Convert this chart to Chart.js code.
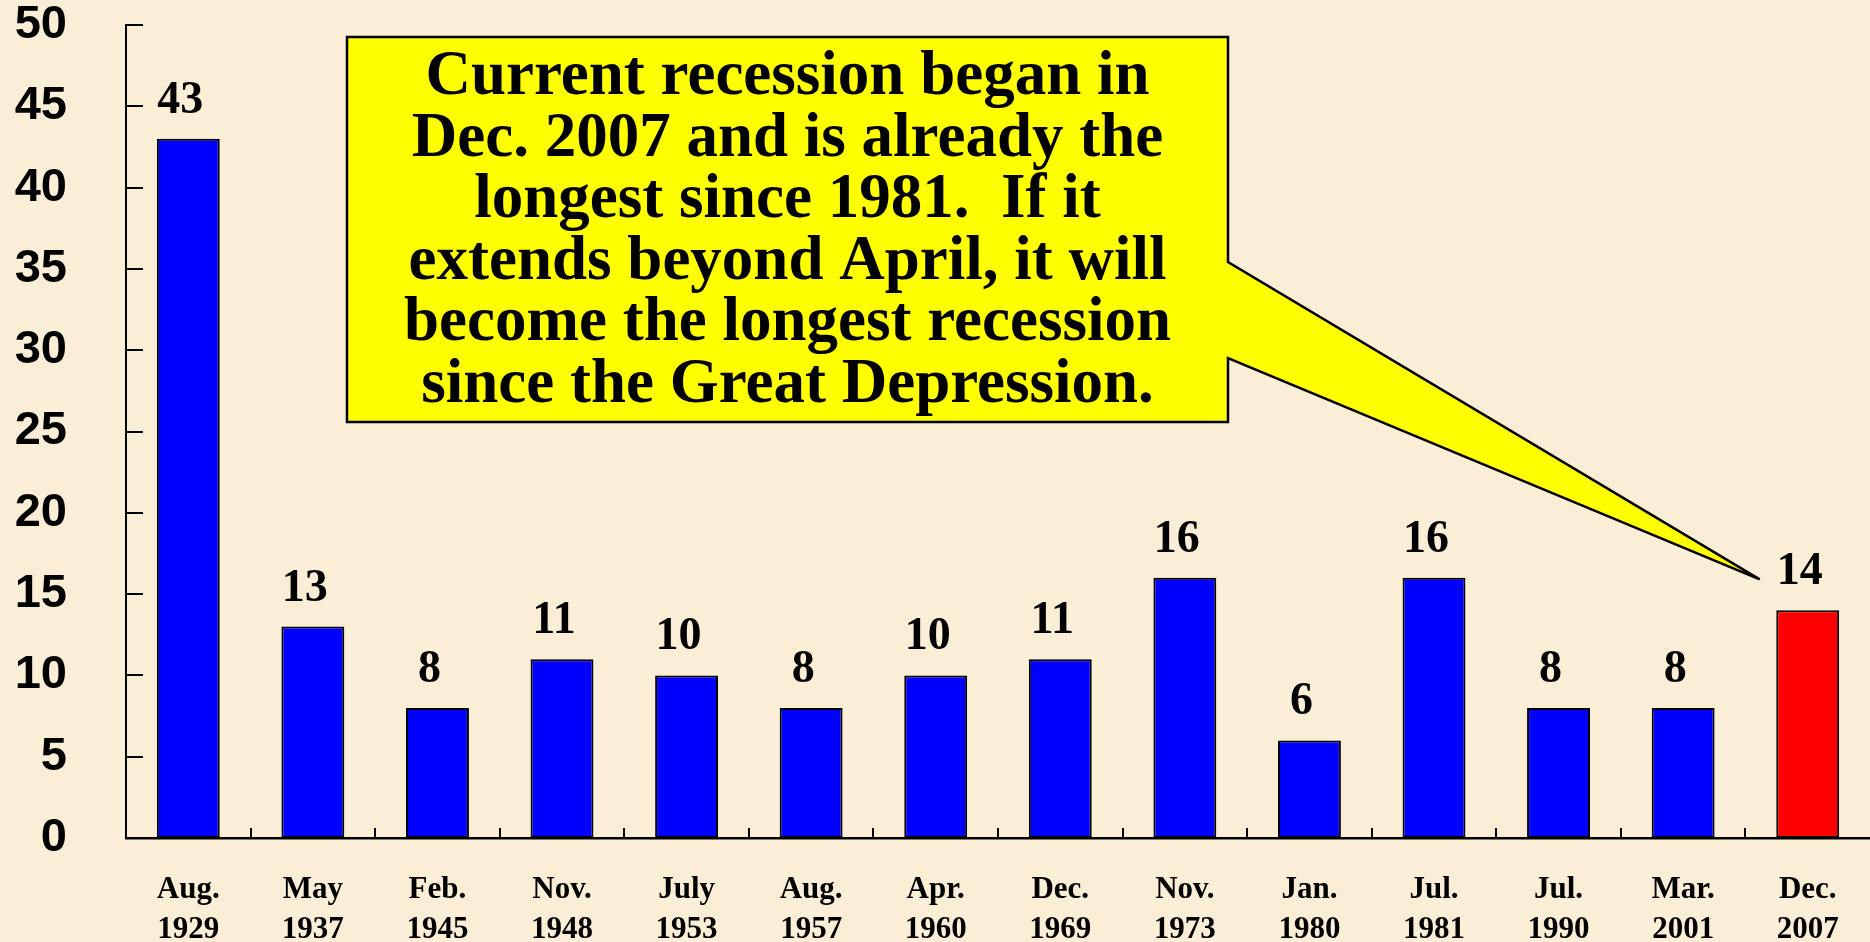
<!DOCTYPE html>
<html>
<head>
<meta charset="utf-8">
<script src="https://cdn.jsdelivr.net/npm/chart.js@4.4.1/dist/chart.umd.min.js"></script>
<style>
  html, body { margin: 0; padding: 0; background: #faeed6; }
  #wrap { width: 1870px; height: 942px; position: relative; }
</style>
</head>
<body>
<div id="wrap"><canvas id="recessionChart"></canvas></div>
<script>
const recessionStarts = [
    ['Aug.', '1929'], ['May', '1937'], ['Feb.', '1945'], ['Nov.', '1948'],
    ['July', '1953'], ['Aug.', '1957'], ['Apr.', '1960'], ['Dec.', '1969'],
    ['Nov.', '1973'], ['Jan.', '1980'], ['Jul.', '1981'], ['Jul.', '1990'],
    ['Mar.', '2001'], ['Dec.', '2007']
];

const durationMonths = [43, 13, 8, 11, 10, 8, 10, 11, 16, 6, 16, 8, 8, 14];

const yTickValues = [0, 5, 10, 15, 20, 25, 30, 35, 40, 45, 50];

const calloutLines = [
    'Current recession began in',
    'Dec. 2007 and is already the',
    'longest since 1981.  If it',
    'extends beyond April, it will',
    'become the longest recession',
    'since the Great Depression.'
];

const currentIndex = durationMonths.length - 1;
const barColors = durationMonths.map((v, i) => i === currentIndex ? '#ff0000' : '#0000ff');

// parchment background
const backgroundPlugin = {
    id: 'parchment',
    beforeDraw(chart) {
        const ctx = chart.ctx;
        ctx.save();
        ctx.fillStyle = '#faeed6';
        ctx.fillRect(0, 0, chart.width, chart.height);
        ctx.restore();
    }
};

// tick marks pointing into the plot, like the original
const innerTicksPlugin = {
    id: 'innerTicks',
    afterDraw(chart) {
        const ctx = chart.ctx;
        const x = chart.scales.x;
        const y = chart.scales.y;
        const area = chart.chartArea;
        ctx.save();
        ctx.strokeStyle = '#000';
        ctx.lineWidth = 2;
        ctx.beginPath();
        yTickValues.forEach(v => {
            if (v === 0) return;
            const py = Math.round(y.getPixelForValue(v));
            ctx.moveTo(area.left, py);
            ctx.lineTo(area.left + 17, py);
        });
        const half = (x.getPixelForValue(1) - x.getPixelForValue(0)) / 2;
        for (let i = 0; i < recessionStarts.length - 1; i++) {
            const px = Math.round(x.getPixelForValue(i) + half);
            ctx.moveTo(px, area.bottom);
            ctx.lineTo(px, area.bottom - 10);
        }
        ctx.stroke();
        ctx.restore();
    }
};

// value labels over bars
const valueLabelsPlugin = {
    id: 'valueLabels',
    afterDatasetsDraw(chart) {
        const ctx = chart.ctx;
        const meta = chart.getDatasetMeta(0);
        ctx.save();
        ctx.fillStyle = '#000';
        ctx.font = 'bold 46px "Liberation Serif", "Times New Roman", serif';
        ctx.textAlign = 'center';
        ctx.textBaseline = 'alphabetic';
        meta.data.forEach((bar, i) => {
            ctx.fillText(String(durationMonths[i]), bar.x - 8, bar.y - 26);
        });
        ctx.restore();
    }
};

// yellow speech box pointing at the current recession
const calloutPlugin = {
    id: 'callout',
    afterDraw(chart) {
        const ctx = chart.ctx;
        const bar = chart.getDatasetMeta(0).data[currentIndex];
        const box = { left: 347, top: 37, right: 1228, bottom: 422 };
        const tipX = bar.x - 48;
        const tipY = bar.y - 31;
        ctx.save();
        ctx.beginPath();
        ctx.moveTo(box.left, box.top);
        ctx.lineTo(box.right, box.top);
        ctx.lineTo(box.right, 262);
        ctx.lineTo(tipX, tipY);
        ctx.lineTo(box.right, 358);
        ctx.lineTo(box.right, box.bottom);
        ctx.lineTo(box.left, box.bottom);
        ctx.closePath();
        ctx.fillStyle = '#ffff00';
        ctx.fill();
        ctx.lineWidth = 2.5;
        ctx.lineJoin = 'miter';
        ctx.strokeStyle = '#000';
        ctx.stroke();

        ctx.fillStyle = '#000';
        ctx.font = 'bold 63px "Liberation Serif", "Times New Roman", serif';
        ctx.textAlign = 'center';
        ctx.textBaseline = 'alphabetic';
        const cx = (box.left + box.right) / 2;
        calloutLines.forEach((line, i) => {
            ctx.fillText(line, cx, 94 + i * 61.6);
        });
        ctx.restore();
    }
};

const ctx = document.getElementById('recessionChart').getContext('2d');
const recessionChart = new Chart(ctx, {
    type: 'bar',
    data: {
        labels: recessionStarts,
        datasets: [{
            label: 'Recession length (months)',
            data: durationMonths,
            backgroundColor: barColors,
            borderColor: '#000',
            borderWidth: 2,
            borderSkipped: false,
            barPercentage: 0.505,
            categoryPercentage: 1.0
        }]
    },
    options: {
        responsive: true,
        maintainAspectRatio: false,
        animation: false,
        layout: {
            padding: { top: 25, right: 0, bottom: 0, left: 0 }
        },
        scales: {
            y: {
                min: 0,
                max: 50,
                afterFit(scale) {
                    scale.width = 126;
                    scale.paddingTop = 0;
                    scale.paddingBottom = 0;
                },
                afterBuildTicks(scale) {
                    scale.ticks = yTickValues.map(v => ({ value: v }));
                },
                grid: { display: false, drawTicks: false },
                border: { display: true, color: '#000', width: 2 },
                ticks: {
                    color: '#000',
                    padding: 59,
                    font: { family: '"Liberation Sans", Arial, sans-serif', size: 47, weight: 'bold' }
                }
            },
            x: {
                afterFit(scale) {
                    scale.height = 104;
                    scale.paddingLeft = 0;
                    scale.paddingRight = 0;
                },
                grid: { display: false, drawTicks: false },
                border: { display: true, color: '#000', width: 2.5 },
                ticks: {
                    color: '#000',
                    padding: 32,
                    maxRotation: 0,
                    autoSkip: false,
                    font: { family: '"Liberation Serif", "Times New Roman", serif', size: 31, weight: 'bold', lineHeight: 1.29 }
                }
            }
        },
        plugins: {
            legend: { display: false },
            tooltip: { enabled: false }
        }
    },
    plugins: [backgroundPlugin, innerTicksPlugin, valueLabelsPlugin, calloutPlugin]
});
</script>
</body>
</html>
